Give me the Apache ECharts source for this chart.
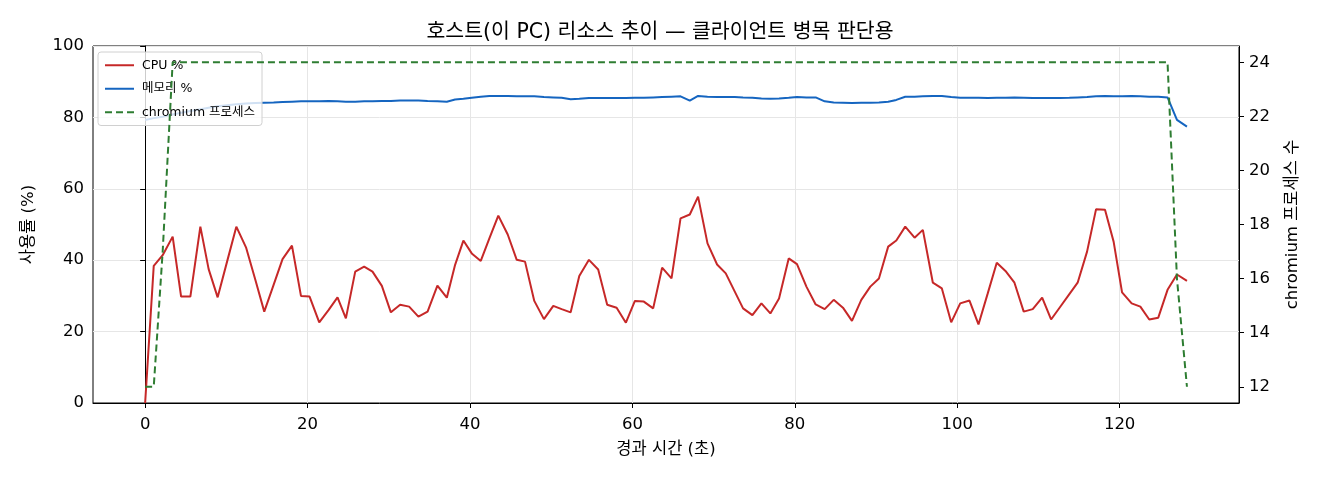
<!DOCTYPE html>
<html>
<head>
<meta charset="utf-8">
<script src="https://cdn.jsdelivr.net/npm/echarts@6/dist/echarts.min.js"></script>
<style>
    html, body { margin: 0; padding: 0; background: #fff; }
    #chart { width: 1320px; height: 480px; }
</style>
</head>
<body>
<div id="chart"></div>
<script>
// 경과 시간 (초)
let times = [
    0, 1.06, 2.16, 3.39, 4.43, 5.57, 6.80, 7.82, 8.93, 10.09,
    11.23, 12.42, 13.57, 14.67, 15.82, 16.92, 18.08, 19.19, 20.25, 21.44,
    22.58, 23.69, 24.72, 25.87, 26.97, 28.00, 29.15, 30.26, 31.40, 32.51,
    33.65, 34.78, 35.99, 37.15, 38.17, 39.19, 40.22, 41.33, 42.39, 43.49,
    44.65, 45.76, 46.78, 47.92, 49.11, 50.26, 51.29, 52.40, 53.46, 54.65,
    55.79, 56.90, 58.06, 59.20, 60.31, 61.41, 62.56, 63.66, 64.82, 65.93,
    67.07, 68.09, 69.25, 70.43, 71.50, 72.61, 73.63, 74.78, 75.89, 76.99,
    78.06, 79.25, 80.27, 81.43, 82.57, 83.68, 84.79, 85.93, 87.04, 88.19,
    89.30, 90.36, 91.50, 92.50, 93.60, 94.75, 95.77, 97.00, 98.11, 99.26,
    100.37, 101.51, 102.62, 103.76, 104.87, 105.94, 107.05, 108.19, 109.30, 110.46,
    111.56, 112.67, 113.81, 114.83, 115.99, 117.10, 118.20, 119.26, 120.30, 121.48,
    122.55, 123.65, 124.76, 125.90, 127.06, 128.29
];

// CPU %
let cpu = [
    0, 38.4, 41.4, 46.6, 29.8, 29.8, 49.4, 37.5, 29.6, 39.6,
    49.4, 43.6, 34.5, 25.6, 33.1, 40.3, 44.1, 30.0, 29.8, 22.6,
    26.0, 29.6, 23.7, 36.8, 38.2, 36.8, 32.8, 25.4, 27.5, 27.0,
    24.2, 25.6, 32.9, 29.5, 38.7, 45.5, 41.9, 39.8, 46.1, 52.5,
    47.2, 40.1, 39.6, 28.6, 23.5, 27.2, 26.3, 25.4, 35.6, 40.1,
    37.4, 27.5, 26.7, 22.5, 28.6, 28.4, 26.5, 37.9, 34.9, 51.7,
    52.8, 57.8, 44.7, 38.8, 36.3, 31.2, 26.5, 24.6, 27.9, 25.1,
    29.3, 40.5, 38.9, 32.6, 27.6, 26.3, 28.9, 26.7, 23.0, 28.9,
    32.6, 34.9, 43.8, 45.5, 49.4, 46.3, 48.5, 33.7, 32.1, 22.6,
    27.9, 28.7, 22.0, 30.7, 39.3, 37.0, 33.7, 25.6, 26.3, 29.5,
    23.4, 26.9, 30.5, 33.7, 42.4, 54.3, 54.1, 45.2, 31.0, 27.9,
    27.0, 23.4, 23.9, 31.7, 36.0, 34.2
];

// 메모리 %
let mem = [
    79.3, 79.8, 80.2, 80.8, 81.3, 81.8, 82.3, 82.7, 83.1, 83.4,
    83.7, 83.9, 84.0, 84.1, 84.2, 84.3, 84.4, 84.5, 84.5, 84.5,
    84.6, 84.5, 84.4, 84.4, 84.5, 84.5, 84.6, 84.6, 84.7, 84.7,
    84.7, 84.6, 84.5, 84.4, 85.0, 85.2, 85.5, 85.8, 86.0, 86.0,
    86.0, 85.9, 85.9, 85.9, 85.7, 85.6, 85.5, 85.1, 85.2, 85.4,
    85.4, 85.4, 85.4, 85.4, 85.5, 85.5, 85.6, 85.7, 85.8, 85.9,
    84.7, 86.0, 85.8, 85.7, 85.7, 85.7, 85.6, 85.5, 85.3, 85.2,
    85.3, 85.5, 85.7, 85.6, 85.6, 84.5, 84.2, 84.1, 84.0, 84.1,
    84.1, 84.2, 84.4, 84.9, 85.8, 85.8, 85.9, 86.0, 86.0, 85.7,
    85.5, 85.5, 85.5, 85.4, 85.5, 85.5, 85.6, 85.5, 85.4, 85.4,
    85.4, 85.4, 85.5, 85.6, 85.7, 85.9, 86.0, 85.9, 85.9, 86.0,
    85.9, 85.8, 85.8, 85.6, 79.3, 77.4
];

// chromium 프로세스 수
let procs = [
    12, 12, 17, 24, 24, 24, 24, 24, 24, 24,
    24, 24, 24, 24, 24, 24, 24, 24, 24, 24,
    24, 24, 24, 24, 24, 24, 24, 24, 24, 24,
    24, 24, 24, 24, 24, 24, 24, 24, 24, 24,
    24, 24, 24, 24, 24, 24, 24, 24, 24, 24,
    24, 24, 24, 24, 24, 24, 24, 24, 24, 24,
    24, 24, 24, 24, 24, 24, 24, 24, 24, 24,
    24, 24, 24, 24, 24, 24, 24, 24, 24, 24,
    24, 24, 24, 24, 24, 24, 24, 24, 24, 24,
    24, 24, 24, 24, 24, 24, 24, 24, 24, 24,
    24, 24, 24, 24, 24, 24, 24, 24, 24, 24,
    24, 24, 24, 24, 16, 12
];

let xTicks = [0, 20, 40, 60, 80, 100, 120];
let rightTicks = [12, 14, 16, 18, 20, 22, 24];

function pairs(ys) {
    return times.map(function (t, i) { return [t, ys[i]]; });
}

// 라틴 문자는 DejaVu, 한글은 Noto CJK 로 대체
let font = "'DejaVu Sans', 'Noto Sans CJK KR', sans-serif";
let axisText = { color: '#000', fontSize: 16.5, fontFamily: font };
let gridLine = { show: true, lineStyle: { color: '#e6e6e6', width: 1 } };

let chart = echarts.init(document.getElementById('chart'));

chart.setOption({
    animation: false,
    textStyle: { fontFamily: font },
    title: {
        text: '호스트(이 PC) 리소스 추이 — 클라이언트 병목 판단용',
        left: 'center',
        top: 17,
        textStyle: { fontSize: 20.5, fontWeight: 'normal', color: '#000', fontFamily: font }
    },
    grid: {
        left: 93,
        right: 81,
        top: 46,
        bottom: 77,
        show: true,
        borderColor: '#000',
        borderWidth: 1,
        backgroundColor: 'transparent'
    },
    legend: {
        orient: 'vertical',
        left: 98,
        top: 52,
        padding: [7, 7, 7, 6],
        itemWidth: 29,
        itemHeight: 12,
        itemGap: 11,
        // 범례에는 선만 (원 마커 숨김)
        itemStyle: { opacity: 0 },
        backgroundColor: 'rgba(255,255,255,0.8)',
        borderColor: '#d0d0d0',
        borderWidth: 1,
        borderRadius: 3,
        z: 4,
        textStyle: { fontSize: 12.5, color: '#000', fontFamily: font, padding: [0, 0, 0, 3] },
        data: ['CPU %', '메모리 %', 'chromium 프로세스']
    },
    xAxis: {
        type: 'value',
        min: -6.42,
        max: 134.7,
        name: '경과 시간 (초)',
        nameLocation: 'middle',
        nameGap: 38,
        nameTextStyle: axisText,
        axisLine: { show: true, onZero: false, lineStyle: { color: '#000' } },
        axisTick: { show: true, length: 5, lineStyle: { color: '#000' }, customValues: xTicks },
        axisLabel: Object.assign({ margin: 13, customValues: xTicks }, axisText),
        splitLine: gridLine
    },
    yAxis: [
        {
            type: 'value',
            min: 0,
            max: 100,
            interval: 20,
            name: '사용률 (%)',
            nameLocation: 'middle',
            nameRotate: 90,
            nameGap: 56,
            nameTextStyle: axisText,
            axisLine: { show: true, lineStyle: { color: '#000' } },
            axisTick: { show: true, length: 5, lineStyle: { color: '#000' } },
            axisLabel: Object.assign({ margin: 9 }, axisText),
            splitLine: gridLine
        },
        {
            type: 'value',
            position: 'right',
            min: 11.4,
            max: 24.6,
            name: 'chromium 프로세스 수',
            nameLocation: 'middle',
            nameRotate: 90,
            nameGap: 45,
            nameTextStyle: axisText,
            axisLine: { show: true, lineStyle: { color: '#000' } },
            axisTick: { show: true, length: 5, lineStyle: { color: '#000' }, customValues: rightTicks },
            axisLabel: Object.assign({ margin: 10, customValues: rightTicks }, axisText),
            splitLine: { show: false }
        }
    ],
    series: [
        {
            name: 'CPU %',
            type: 'line',
            yAxisIndex: 0,
            symbol: 'none',
            z: 2,
            lineStyle: { color: '#c62828', width: 2 },
            itemStyle: { color: '#c62828' },
            data: pairs(cpu)
        },
        {
            name: '메모리 %',
            type: 'line',
            yAxisIndex: 0,
            symbol: 'none',
            z: 2,
            lineStyle: { color: '#1565c0', width: 2 },
            itemStyle: { color: '#1565c0' },
            data: pairs(mem)
        },
        {
            name: 'chromium 프로세스',
            type: 'line',
            yAxisIndex: 1,
            symbol: 'none',
            z: 6,
            lineStyle: { color: '#2e7d32', width: 2, type: [7, 4] },
            itemStyle: { color: '#2e7d32' },
            data: pairs(procs)
        }
    ]
});
</script>
</body>
</html>
